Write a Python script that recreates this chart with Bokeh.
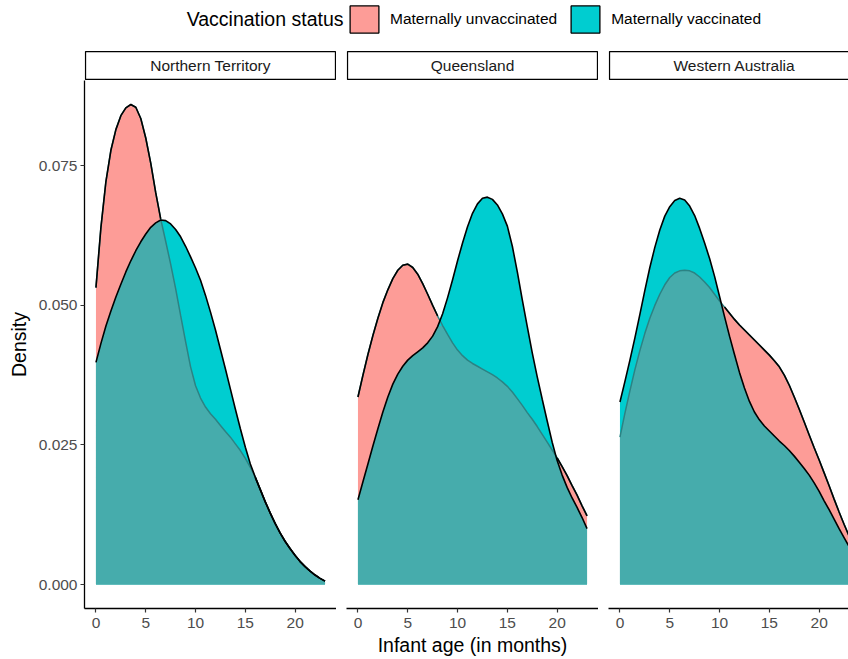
import numpy as np
from bokeh.plotting import figure
from bokeh.layouts import column, row
from bokeh.models import (Range1d, FixedTicker, PrintfTickFormatter, Legend, LegendItem,
                          Label, ColumnDataSource)
from bokeh.embed import file_html
from bokeh.resources import INLINE

# ---------------- data ----------------
regions = ["Northern Territory", "Queensland", "Western Australia"]
series_names = ["Maternally unvaccinated", "Maternally vaccinated"]
legend_title = "Vaccination status"
x_label = "Infant age (in months)"
y_label = "Density"
x_ticks = [0, 5, 10, 15, 20]
y_ticks = [0.0, 0.025, 0.05, 0.075]

# infant age (months) at which the densities were read, every half month 0..23
age = [0.0, 0.5, 1.0, 1.5, 2.0, 2.5, 3.0, 3.5, 4.0, 4.5, 5.0, 5.5, 6.0, 6.5, 7.0, 7.5,
       8.0, 8.5, 9.0, 9.5, 10.0, 10.5, 11.0, 11.5, 12.0, 12.5, 13.0, 13.5, 14.0, 14.5,
       15.0, 15.5, 16.0, 16.5, 17.0, 17.5, 18.0, 18.5, 19.0, 19.5, 20.0, 20.5, 21.0,
       21.5, 22.0, 22.5, 23.0]

nt_unvacc = [0.0532, 0.0640, 0.0722, 0.0778, 0.0815, 0.0840, 0.0854, 0.0860, 0.0855, 0.0835,
             0.0800, 0.0755, 0.0702, 0.0655, 0.0615, 0.0574, 0.0530, 0.0482, 0.0435, 0.0390,
             0.0356, 0.0334, 0.0318, 0.0306, 0.0296, 0.0285, 0.0274, 0.0264, 0.0252, 0.0240,
             0.0226, 0.0210, 0.0192, 0.0170, 0.0148, 0.0128, 0.0109, 0.0092, 0.0077, 0.0064,
             0.0052, 0.0041, 0.0032, 0.0024, 0.0017, 0.0011, 0.0006]
nt_vacc = [0.0398, 0.0432, 0.0463, 0.0490, 0.0515, 0.0538, 0.0560, 0.0580, 0.0598, 0.0614,
           0.0628, 0.0640, 0.0648, 0.0653, 0.0652, 0.0646, 0.0636, 0.0623, 0.0606, 0.0587,
           0.0567, 0.0545, 0.0518, 0.0488, 0.0456, 0.0421, 0.0386, 0.0350, 0.0314, 0.0279,
           0.0246, 0.0216, 0.0192, 0.0170, 0.0148, 0.0128, 0.0109, 0.0092, 0.0077, 0.0064,
           0.0052, 0.0041, 0.0032, 0.0024, 0.0017, 0.0011, 0.0006]
qld_unvacc = [0.0336, 0.0375, 0.0412, 0.0446, 0.0477, 0.0505, 0.0528, 0.0548, 0.0563, 0.0572,
              0.0574, 0.0568, 0.0556, 0.0539, 0.0520, 0.0500, 0.0481, 0.0464, 0.0448, 0.0433,
              0.0420, 0.0410, 0.0402, 0.0396, 0.0391, 0.0386, 0.0381, 0.0376, 0.0370, 0.0363,
              0.0355, 0.0345, 0.0333, 0.0321, 0.0308, 0.0296, 0.0283, 0.0269, 0.0255, 0.0241,
              0.0227, 0.0211, 0.0195, 0.0177, 0.0160, 0.0141, 0.0123]
qld_vacc = [0.0152, 0.0184, 0.0216, 0.0248, 0.0279, 0.0309, 0.0336, 0.0359, 0.0377, 0.0391,
            0.0402, 0.0410, 0.0417, 0.0424, 0.0433, 0.0445, 0.0462, 0.0485, 0.0514, 0.0546,
            0.0580, 0.0612, 0.0641, 0.0665, 0.0682, 0.0692, 0.0694, 0.0690, 0.0680, 0.0664,
            0.0642, 0.0606, 0.0560, 0.0510, 0.0462, 0.0415, 0.0372, 0.0332, 0.0293, 0.0255,
            0.0222, 0.0196, 0.0174, 0.0155, 0.0138, 0.0120, 0.0100]
wa_unvacc = [0.0264, 0.0307, 0.0347, 0.0385, 0.0419, 0.0450, 0.0477, 0.0500, 0.0520, 0.0537,
             0.0550, 0.0558, 0.0562, 0.0563, 0.0562, 0.0558, 0.0551, 0.0542, 0.0532, 0.0520,
             0.0508, 0.0497, 0.0486, 0.0475, 0.0465, 0.0456, 0.0447, 0.0438, 0.0429, 0.0420,
             0.0411, 0.0401, 0.0390, 0.0375, 0.0357, 0.0336, 0.0314, 0.0291, 0.0268, 0.0245,
             0.0223, 0.0200, 0.0177, 0.0153, 0.0130, 0.0108, 0.0087]
wa_vacc = [0.0327, 0.0364, 0.0402, 0.0442, 0.0484, 0.0527, 0.0568, 0.0604, 0.0635, 0.0660,
           0.0677, 0.0688, 0.0692, 0.0689, 0.0678, 0.0661, 0.0638, 0.0612, 0.0584, 0.0552,
           0.0516, 0.0480, 0.0445, 0.0412, 0.0380, 0.0352, 0.0328, 0.0309, 0.0295, 0.0284,
           0.0275, 0.0266, 0.0257, 0.0249, 0.0240, 0.0230, 0.0219, 0.0208, 0.0196, 0.0182,
           0.0167, 0.0150, 0.0134, 0.0117, 0.0100, 0.0084, 0.0068]

unvacc_by_region = [nt_unvacc, qld_unvacc, wa_unvacc]
vacc_by_region = [nt_vacc, qld_vacc, wa_vacc]

# ---------------- style ----------------
FONT = "Liberation Sans"
PINK = "#FD9C97"
CYAN = "#00CDD0"
TEAL = "#46ACAC"
DARKTEAL = "#2B8384"
SMALL = "15.5px"
BIG = "19.5px"

xmin, xmax = min(age), max(age)
xpad = 0.05 * (xmax - xmin)
ymax = max(max(s) for s in unvacc_by_region + vacc_by_region)
ypad = 0.05 * ymax

FRAME_W = 252
PANEL_H = 579
widths = [336, 262, 250]
borders = [84, 10, 10]
full_span = (xmax - xmin) + 2 * xpad


def x_end_for(width, border):
    frame = width - border
    return xmin - xpad + full_span * frame / FRAME_W


def make_panel(k):
    width, border = widths[k], borders[k]
    p = figure(width=width, height=PANEL_H, output_backend="svg", toolbar_location=None,
               x_range=Range1d(xmin - xpad, x_end_for(width, border)),
               y_range=Range1d(-ypad, ymax + ypad),
               min_border_left=border, min_border_right=0, min_border_top=0,
               min_border_bottom=51,
               y_axis_location="left" if k == 0 else None)
    p.outline_line_color = None
    p.xgrid.visible = False
    p.ygrid.visible = False
    p.background_fill_color = "white"
    p.border_fill_color = "white"

    un = np.array(unvacc_by_region[k], dtype=float)
    va = np.array(vacc_by_region[k], dtype=float)
    src = ColumnDataSource(dict(
        x=np.array(age, dtype=float), un=un, va=va,
        lo=np.minimum(un, va),
        un_top=np.where(un >= va, un, np.nan),
    ))
    p.varea(x="x", y1=0, y2="un", source=src, fill_color=PINK)
    p.varea(x="x", y1=0, y2="va", source=src, fill_color=CYAN)
    p.varea(x="x", y1=0, y2="lo", source=src, fill_color=TEAL)
    p.line("x", "un", source=src, line_color=DARKTEAL, line_width=1.5)
    p.line("x", "un_top", source=src, line_color="black", line_width=1.6)
    p.line("x", "va", source=src, line_color="black", line_width=1.6)

    axes = [p.xaxis[0]] + ([p.yaxis[0]] if k == 0 else [])
    for ax in axes:
        ax.axis_line_color = "black"
        ax.axis_line_width = 1.3
        ax.major_tick_line_color = "#333333"
        ax.major_tick_line_width = 1.2
        ax.major_tick_out = 4
        ax.major_tick_in = 0
        ax.minor_tick_line_color = None
        ax.major_label_text_font = FONT
        ax.major_label_text_font_size = SMALL
        ax.major_label_text_color = "#4D4D4D"
        ax.major_label_standoff = 3
        ax.axis_label_text_font = FONT
        ax.axis_label_text_font_size = BIG
        ax.axis_label_text_font_style = "normal"
        ax.axis_label_text_color = "black"
    p.xaxis[0].ticker = FixedTicker(ticks=x_ticks)
    p.xaxis[0].major_label_standoff = 5
    if k == 0:
        p.yaxis[0].ticker = FixedTicker(ticks=y_ticks)
        p.yaxis[0].formatter = PrintfTickFormatter(format="%.3f")
        p.yaxis[0].axis_label = y_label
        p.yaxis[0].axis_label_standoff = 6
    if k == 1:
        p.xaxis[0].axis_label = x_label
        p.xaxis[0].axis_label_standoff = 3
    return p


def make_strip(k):
    width, border = widths[k], borders[k]
    frame = width - border
    s = figure(width=width, height=30, output_backend="svg", toolbar_location=None,
               x_range=Range1d(-0.004, -0.004 + 1.008 * frame / FRAME_W),
               y_range=Range1d(-0.04, 1.04),
               min_border_left=border, min_border_right=0, min_border_top=0, min_border_bottom=0,
               x_axis_location=None, y_axis_location=None)
    s.outline_line_color = None
    s.xgrid.visible = False
    s.ygrid.visible = False
    s.quad(left=[0], right=[1], bottom=[0], top=[1], fill_color="white",
           line_color="black", line_width=1.3)
    s.add_layout(Label(x=0.5, y=0.5, text=regions[k], text_align="center",
                       text_baseline="middle", text_font=FONT, text_font_size=SMALL,
                       text_color="#1A1A1A"))
    return s


# ---------------- legend strip ----------------
lg = figure(width=848, height=50, output_backend="svg", toolbar_location=None,
            x_range=Range1d(0, 1), y_range=Range1d(0, 1), min_border=0,
            x_axis_location=None, y_axis_location=None)
lg.outline_line_color = None
lg.xgrid.visible = False
lg.ygrid.visible = False
# key glyphs only (no visible data): NaN coordinates
r_un = lg.quad(left=[np.nan], right=[np.nan], top=[np.nan], bottom=[np.nan], fill_color=PINK,
               line_color="black", line_width=1.3)
r_va = lg.quad(left=[np.nan], right=[np.nan], top=[np.nan], bottom=[np.nan], fill_color=CYAN,
               line_color="black", line_width=1.3)
legend = Legend(items=[LegendItem(label=series_names[0], renderers=[r_un]),
                       LegendItem(label=series_names[1], renderers=[r_va])],
                orientation="horizontal", location=(346, 14),
                glyph_width=36, glyph_height=34, label_standoff=8, spacing=10,
                padding=0, margin=0, border_line_color=None, background_fill_alpha=0,
                label_text_font=FONT, label_text_font_size=SMALL, label_text_color="black")
lg.add_layout(legend, "center")
lg.add_layout(Label(x=343, y=31.5, x_units="screen", y_units="screen", text=legend_title,
                    text_align="right", text_baseline="middle", text_font=FONT,
                    text_font_size=BIG, text_color="black"))

strips = [make_strip(k) for k in range(3)]
panels = [make_panel(k) for k in range(3)]

layout = column(lg, row(*strips, spacing=0), row(*panels, spacing=0), spacing=0)

open("out.html", "w").write(file_html(layout, INLINE))
